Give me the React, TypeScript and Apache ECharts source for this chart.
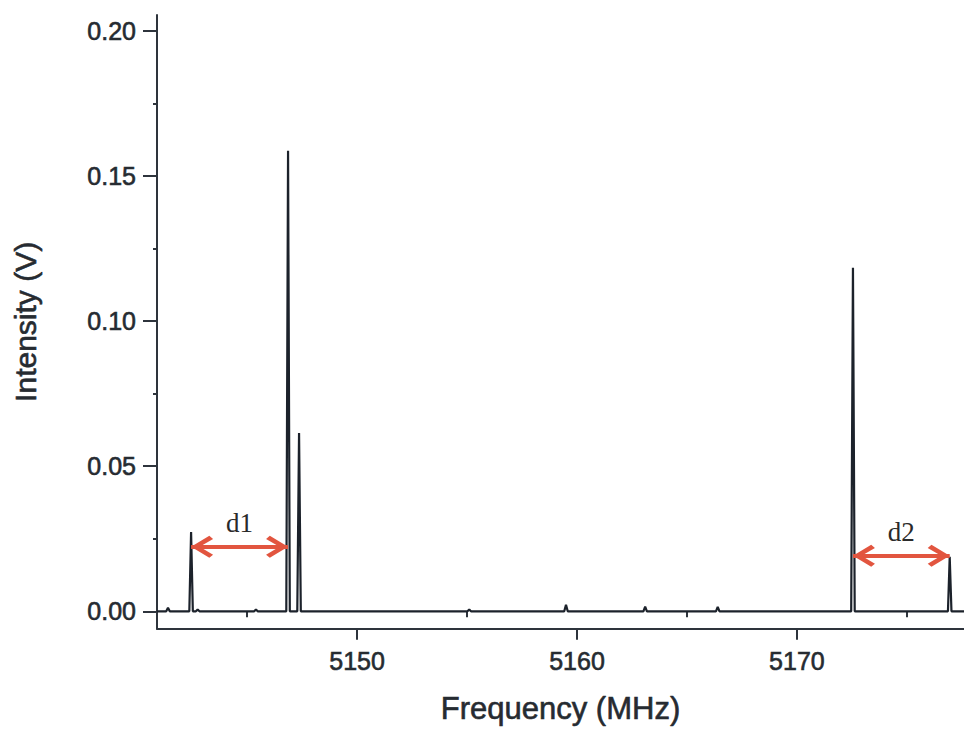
import React, { useEffect, useRef } from "react";
import * as echarts from "echarts";

const xMin = 5140.9;
const xMax = 5177.6;
const yMin = -0.006;
const yMax = 0.2055;

const xMajorTicks = [5150, 5160, 5170];
const xMinorTicks = [5145, 5155, 5165, 5175];
const yMajorTicks = [0, 0.05, 0.1, 0.15, 0.2];
const yMinorTicks = [0.025, 0.075, 0.125, 0.175];

// Spectral lines: frequency (MHz) and intensity (V)
const peakFreqs = [5141.4, 5142.45, 5142.75, 5145.4, 5146.86, 5147.36, 5155.1, 5159.5, 5163.1, 5166.4, 5172.55, 5176.95];
const peakHeights = [0.0012, 0.0273, 0.0006, 0.0006, 0.1587, 0.0614, 0.0006, 0.0022, 0.0016, 0.0015, 0.1184, 0.0188];
const peakHalfWidth = 0.08;

// Distance annotations
const arrowNames = ["d1", "d2"];
const arrowFrom = [5142.45, 5172.55];
const arrowTo = [5146.86, 5176.95];
const arrowLevel = [0.0222, 0.0191];

const AXIS_COLOR = "#2e343c";
const TEXT_COLOR = "#262b31";
const LINE_COLOR = "#1c222b";
const RED = "#e2553f";
const chevron = "path://M0,0 L12,17 L8.5,20.5 L0,8 L-8.5,20.5 L-12,17 Z";

export default function App() {
  const ref = useRef<HTMLDivElement>(null);
  useEffect(() => {
    if (!ref.current) return;
    const chart = echarts.init(ref.current, null, { renderer: "svg" });
    const data: number[][] = [[xMin, 0]];
    peakFreqs.forEach((f, i) => {
      data.push([f - peakHalfWidth, 0], [f, peakHeights[i]], [f + peakHalfWidth, 0]);
    });
    data.push([xMax, 0]);

    const markData = arrowNames.map((n, i) => [
      { name: n, coord: [arrowFrom[i], arrowLevel[i]] },
      { coord: [arrowTo[i], arrowLevel[i]] },
    ]);

    const font = "Liberation Sans, Arial, sans-serif";
    const thick = { textBorderColor: TEXT_COLOR, textBorderWidth: 0.6 };
    chart.setOption({
      animation: false,
      backgroundColor: "#ffffff",
      grid: { left: 157, right: 0, top: 15, bottom: 94, containLabel: false },
      xAxis: [
        {
          type: "value",
          min: xMin,
          max: xMax,
          name: "Frequency (MHz)",
          nameLocation: "middle",
          nameGap: 64,
          nameTextStyle: { fontFamily: font, fontSize: 31, color: TEXT_COLOR, ...thick },
          axisLine: { show: true, onZero: false, lineStyle: { color: AXIS_COLOR, width: 2 } },
          axisTick: { show: true, length: 11, customValues: xMajorTicks, lineStyle: { color: AXIS_COLOR, width: 2 } },
          axisLabel: {
            customValues: xMajorTicks,
            margin: 20,
            fontFamily: font,
            fontSize: 25,
            color: TEXT_COLOR,
            ...thick,
            formatter: (v: number) => String(v),
          },
          splitLine: { show: false },
        },
        {
          type: "value",
          position: "bottom",
          min: xMin,
          max: xMax,
          axisLine: { show: false },
          axisTick: { show: true, length: 6, customValues: xMinorTicks, lineStyle: { color: AXIS_COLOR, width: 2 } },
          axisLabel: { show: false },
          splitLine: { show: false },
        },
      ],
      yAxis: [
        {
          type: "value",
          min: yMin,
          max: yMax,
          name: "Intensity (V)",
          nameLocation: "middle",
          nameGap: 117,
          nameTextStyle: { fontFamily: font, fontSize: 30, color: TEXT_COLOR, ...thick },
          axisLine: { show: true, onZero: false, lineStyle: { color: AXIS_COLOR, width: 2 } },
          axisTick: { show: true, length: 14, customValues: yMajorTicks, lineStyle: { color: AXIS_COLOR, width: 2 } },
          axisLabel: {
            customValues: yMajorTicks,
            margin: 21,
            fontFamily: font,
            fontSize: 25,
            color: TEXT_COLOR,
            ...thick,
            formatter: (v: number) => v.toFixed(2),
          },
          splitLine: { show: false },
        },
        {
          type: "value",
          position: "left",
          min: yMin,
          max: yMax,
          axisLine: { show: false },
          axisTick: { show: true, length: 4, customValues: yMinorTicks, lineStyle: { color: AXIS_COLOR, width: 2 } },
          axisLabel: { show: false },
          splitLine: { show: false },
        },
      ],
      series: [
        {
          type: "line",
          data,
          xAxisIndex: 0,
          yAxisIndex: 0,
          showSymbol: false,
          symbol: "none",
          lineStyle: { color: LINE_COLOR, width: 2.2 },
          silent: true,
          markLine: {
            silent: true,
            symbol: [chevron, chevron],
            symbolSize: 22,
            symbolOffset: [[0, 11], [0, 11]],
            lineStyle: { color: RED, width: 4, type: "solid" },
            label: {
              show: true,
              position: "middle",
              formatter: "{b}",
              distance: 10,
              fontFamily: "Liberation Serif, Times New Roman, serif",
              fontSize: 27,
              color: "#2a2a2a",
            },
            data: markData,
          },
        },
      ],
    });
    return () => chart.dispose();
  }, []);
  return <div ref={ref} style={{ position: "fixed", left: 0, top: 0, width: 964, height: 729 }} />;
}
